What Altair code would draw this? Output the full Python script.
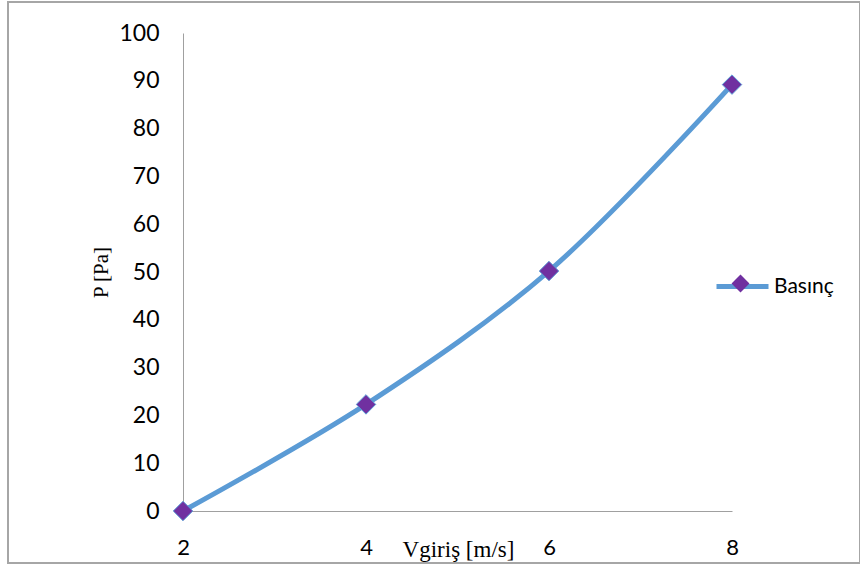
import altair as alt
import pandas as pd

# Inlet velocity (m/s) and resulting pressure (Pa)
velocity = [2, 4, 6, 8]
pressure = [0, 22.3, 50.2, 89.2]
series_name = "Basınç"

df = pd.DataFrame({
    "v": velocity,
    "p": pressure,
    "s1": [series_name] * len(velocity),
    "s2": [series_name] * len(velocity),
})

LINE_BLUE = "#5B9BD5"
MARKER_PURPLE = "#7030A0"
LABEL_FONT = "Lato"
TITLE_FONT = "Liberation Serif"

x_enc = alt.X(
    "v:Q",
    scale=alt.Scale(domain=[2, 8], nice=False, zero=False),
    axis=alt.Axis(
        values=velocity,
        format="d",
        title="Vgiriş [m/s]",
        titleFont=TITLE_FONT,
        titleFontSize=23,
        titleFontWeight="normal",
        titleColor="black",
        titleX=275,
        titleY=45,
        titleBaseline="alphabetic",
        titleAlign="center",
        labelFont=LABEL_FONT,
        labelFontSize=22,
        labelColor="black",
        labelPadding=26,
        labelFlush=False,
        ticks=False,
        grid=False,
        domainColor="#A0A0A0",
        domainWidth=1,
    ),
)
y_enc = alt.Y(
    "p:Q",
    scale=alt.Scale(domain=[0, 100], nice=False),
    axis=alt.Axis(
        values=list(range(0, 101, 10)),
        title="P [Pa]",
        titleFont=TITLE_FONT,
        titleFontSize=21,
        titleFontWeight="normal",
        titleColor="black",
        titleAngle=-90,
        titleX=-82,
        titleY=239,
        titleAlign="center",
        titleBaseline="middle",
        labelFont=LABEL_FONT,
        labelFontSize=23,
        labelColor="black",
        labelPadding=24,
        labelFlush=False,
        ticks=False,
        grid=False,
        domainColor="#A0A0A0",
        domainWidth=1,
    ),
)

line = alt.Chart(df).mark_line(
    strokeWidth=5, interpolate="catmull-rom", strokeCap="round", strokeJoin="round"
).encode(
    x=x_enc,
    y=y_enc,
    stroke=alt.Stroke(
        "s1:N",
        scale=alt.Scale(range=[LINE_BLUE]),
        legend=alt.Legend(
            title=None,
            orient="none",
            legendX=531,
            legendY=225,
            padding=0,
            symbolType="stroke",
            symbolSize=2704,
            symbolStrokeWidth=5,
            symbolStrokeColor=LINE_BLUE,
            labelFont=LABEL_FONT,
            labelFontSize=21,
            labelColor="black",
            labelOffset=3,
        ),
    ),
)

points = alt.Chart(df).mark_point(
    filled=True, size=380, fill=MARKER_PURPLE, stroke=LINE_BLUE, strokeWidth=1, opacity=1
).encode(
    x="v:Q",
    y="p:Q",
    shape=alt.Shape(
        "s2:N",
        scale=alt.Scale(range=["diamond"]),
        legend=alt.Legend(
            title=None,
            orient="none",
            legendX=548,
            legendY=241,
            padding=0,
            symbolSize=320,
            symbolFillColor=MARKER_PURPLE,
            symbolStrokeColor=LINE_BLUE,
            symbolStrokeWidth=1,
            symbolOpacity=1,
            labelExpr="''",
            labelFontSize=1,
            labelOffset=0,
        ),
    ),
)

# Outer chart frame
frame = alt.Chart(pd.DataFrame({"k": [0]})).mark_rect(
    fill=None, stroke="#A6A6A6", strokeWidth=2
).encode(
    x=alt.value(-175), x2=alt.value(677), y=alt.value(-31), y2=alt.value(530)
)

chart = alt.layer(frame, line, points).resolve_legend(
    stroke="independent", shape="independent"
).properties(
    width=549,
    height=478,
    padding={"left": 183, "top": 33, "right": 128, "bottom": 58},
    autosize=alt.AutoSizeParams(type="none"),
    background="white",
).configure_view(stroke=None)

chart.save("out.html", embed_options={"renderer": "svg", "actions": False})
